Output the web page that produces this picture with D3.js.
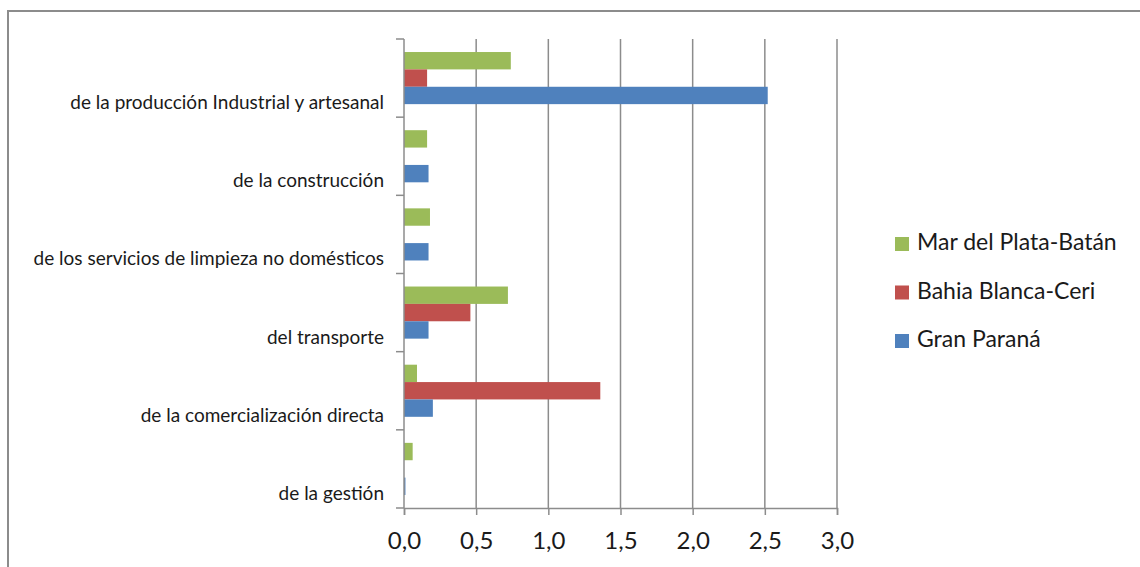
<!DOCTYPE html>
<html>
<head>
<meta charset="utf-8">
<script src="https://cdn.jsdelivr.net/npm/d3@7"></script>
<style>
  body { margin: 0; background: #fff; }
  text { font-family: Lato, "Open Sans", sans-serif; fill: #1a1a1a; }
</style>
</head>
<body>
<div id="chart"></div>
<script>
// categories top to bottom
var categories = [
  'de la producción Industrial y artesanal',
  'de la construcción',
  'de los servicios de limpieza no domésticos',
  'del transporte',
  'de la comercialización directa',
  'de la gestión'
];
var series = ['Mar del Plata-Batán', 'Bahia Blanca-Ceri', 'Gran Paraná'];
var seriesColors = ['#9bbb59', '#c0504d', '#4f81bd'];

var marDelPlata = [0.74, 0.16, 0.18, 0.72, 0.09, 0.06];
var bahiaBlanca = [0.16, 0, 0, 0.46, 1.36, 0];
var granParana  = [2.52, 0.17, 0.17, 0.17, 0.20, 0.01];

var xTicks = [0, 0.5, 1, 1.5, 2, 2.5, 3];

var width = 1140, height = 567;
var svg = d3.select('#chart').append('svg')
  .attr('width', width)
  .attr('height', height);

// outer frame (Excel chart area)
svg.append('rect')
  .attr('x', 8).attr('y', 11)
  .attr('width', 1160).attr('height', 600)
  .attr('fill', 'none')
  .attr('stroke', '#8c8c8c')
  .attr('stroke-width', 2);

var x = d3.scaleLinear().domain([0, 3]).range([404, 837]);
var y = d3.scaleBand().domain(categories).range([39, 508]);
var ySub = d3.scaleBand().domain(series).range([0, y.bandwidth()])
  .paddingInner(0).paddingOuter(0.75);

var table = categories.map(function(c, i) {
  return { cat: c, vals: [marDelPlata[i], bahiaBlanca[i], granParana[i]] };
});

// vertical gridlines
svg.append('g')
  .selectAll('line')
  .data(xTicks.slice(1))
  .enter().append('line')
  .attr('x1', d => x(d)).attr('x2', d => x(d))
  .attr('y1', 39).attr('y2', 508)
  .attr('stroke', '#8c8c8c')
  .attr('stroke-width', 1.5);

// bars
var groups = svg.append('g')
  .selectAll('g')
  .data(table)
  .enter().append('g')
  .attr('transform', d => 'translate(0,' + y(d.cat) + ')');

groups.selectAll('rect')
  .data(d => d.vals.map((v, j) => ({ s: series[j], v: v, c: seriesColors[j] })))
  .enter().append('rect')
  .filter(d => d.v > 0)
  .attr('x', x(0))
  .attr('y', d => ySub(d.s))
  .attr('width', d => x(d.v) - x(0))
  .attr('height', ySub.bandwidth())
  .attr('fill', d => d.c);

// x axis
var xAxis = svg.append('g')
  .attr('transform', 'translate(0,508)')
  .call(d3.axisBottom(x).tickValues(xTicks).tickSize(7).tickPadding(17)
    .tickFormat(d => d3.format('.1f')(d).replace('.', ',')));
xAxis.select('.domain').attr('stroke', '#8c8c8c').attr('stroke-width', 1.5);
xAxis.selectAll('.tick line').attr('stroke', '#8c8c8c').attr('stroke-width', 1.5);
xAxis.selectAll('.tick text')
  .attr('font-size', '24px')
  .attr('fill', '#1a1a1a')
  .style('font-family', 'Lato, "Open Sans", sans-serif');

// y axis line with category boundary ticks
svg.append('line')
  .attr('x1', x(0)).attr('x2', x(0))
  .attr('y1', 39).attr('y2', 508)
  .attr('stroke', '#8c8c8c').attr('stroke-width', 1.5);
svg.append('g')
  .selectAll('line')
  .data(categories.map(c => y(c)).concat([508]))
  .enter().append('line')
  .attr('x1', x(0) - 8).attr('x2', x(0))
  .attr('y1', d => d).attr('y2', d => d)
  .attr('stroke', '#8c8c8c').attr('stroke-width', 1.5);

// category labels
svg.append('g')
  .selectAll('text')
  .data(categories)
  .enter().append('text')
  .attr('x', 384)
  .attr('y', d => y(d) + y.bandwidth() / 2 + 31)
  .attr('text-anchor', 'end')
  .attr('font-size', '19px')
  .text(d => d);

// legend
var legend = svg.append('g')
  .selectAll('g')
  .data(series)
  .enter().append('g')
  .attr('transform', (d, i) => 'translate(895,' + (250 + i * 48.5) + ')');
legend.append('rect')
  .attr('x', 0).attr('y', -13)
  .attr('width', 14).attr('height', 14)
  .attr('fill', (d, i) => seriesColors[i]);
legend.append('text')
  .attr('x', 22).attr('y', 0)
  .attr('font-size', '23px')
  .text(d => d);
</script>
</body>
</html>
